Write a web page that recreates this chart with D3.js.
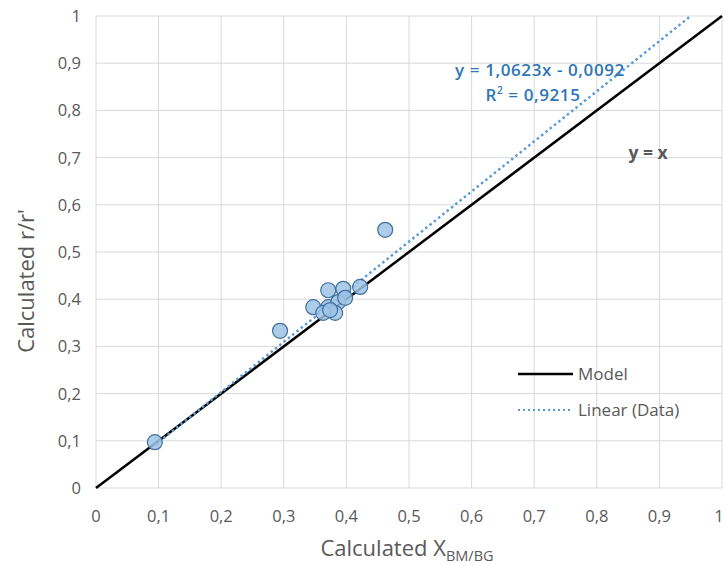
<!DOCTYPE html>
<html>
<head>
<meta charset="utf-8">
<script src="https://cdn.jsdelivr.net/npm/d3@7"></script>
<style>
  body { margin: 0; background: #fff; }
  text { font-family: "Open Sans", sans-serif; }
</style>
</head>
<body>
<div id="chart"></div>
<script>
// measured values (Calculated X_BM/BG vs calculated r/r')
const xVals = [0.094, 0.294, 0.462, 0.422, 0.395, 0.371, 0.347, 0.371, 0.387, 0.398, 0.382, 0.363, 0.374];
const yVals = [0.097, 0.333, 0.547, 0.426, 0.422, 0.419, 0.383, 0.383, 0.394, 0.403, 0.371, 0.371, 0.377];
const ticks = [0, 0.1, 0.2, 0.3, 0.4, 0.5, 0.6, 0.7, 0.8, 0.9, 1];
const slope = 1.0623, intercept = -0.0092;

const width = 724, height = 565;
const margin = {top: 16, right: 2, bottom: 77, left: 96};

const svg = d3.select("#chart").append("svg")
    .attr("width", width)
    .attr("height", height);

const x = d3.scaleLinear().domain([0, 1]).range([margin.left, width - margin.right]);
const y = d3.scaleLinear().domain([0, 1]).range([height - margin.bottom, margin.top]);

const fmt = d => d3.format("")(d).replace(".", ",");

// gridlines
svg.append("g").selectAll("line").data(ticks).join("line")
    .attr("x1", d => x(d)).attr("x2", d => x(d))
    .attr("y1", y(0)).attr("y2", y(1))
    .attr("stroke", "#d9d9d9").attr("stroke-width", 1);
svg.append("g").selectAll("line").data(ticks).join("line")
    .attr("y1", d => y(d)).attr("y2", d => y(d))
    .attr("x1", x(0)).attr("x2", x(1))
    .attr("stroke", "#d9d9d9").attr("stroke-width", 1);

// tick labels
svg.append("g").selectAll("text").data(ticks).join("text")
    .attr("x", d => d === 1 ? x(d) - 3 : x(d)).attr("y", y(0) + 34)
    .attr("text-anchor", "middle")
    .attr("font-size", 16.5).attr("fill", "#595959")
    .text(fmt);
svg.append("g").selectAll("text").data(ticks).join("text")
    .attr("x", x(0) - 15).attr("y", d => y(d) + 6)
    .attr("text-anchor", "end")
    .attr("font-size", 16.5).attr("fill", "#595959")
    .text(fmt);

// axis titles
const xt = svg.append("text")
    .attr("x", 407).attr("y", 556)
    .attr("text-anchor", "middle")
    .attr("font-size", 22).attr("fill", "#595959");
xt.append("tspan").text("Calculated X");
xt.append("tspan").attr("font-size", 14.5).attr("dy", 5).text("BM/BG");

svg.append("text")
    .attr("transform", `translate(34, 281) rotate(-90)`)
    .attr("text-anchor", "middle")
    .attr("font-size", 22).attr("fill", "#595959")
    .text("Calculated r/r'");

// model line y = x
svg.append("line")
    .attr("x1", x(0)).attr("y1", y(0))
    .attr("x2", x(1)).attr("y2", y(1))
    .attr("stroke", "#000").attr("stroke-width", 2.5);

// linear trendline
const xStart = d3.min(xVals);
const xEnd = (1 - intercept) / slope;
svg.append("line")
    .attr("x1", x(xStart)).attr("y1", y(slope * xStart + intercept))
    .attr("x2", x(xEnd)).attr("y2", y(slope * xEnd + intercept))
    .attr("stroke", "#5b9bd5").attr("stroke-width", 2.5)
    .attr("stroke-dasharray", "2.5,3");

// data points
svg.append("g").selectAll("circle").data(xVals).join("circle")
    .attr("cx", d => x(d))
    .attr("cy", (d, i) => y(yVals[i]))
    .attr("r", 7.5)
    .attr("fill", "#9dc3e6").attr("fill-opacity", 0.85)
    .attr("stroke", "#41719c").attr("stroke-width", 1.2);

// equation
svg.append("text")
    .attr("x", 540).attr("y", 76)
    .attr("text-anchor", "middle")
    .attr("font-size", 17).attr("font-weight", 600).attr("fill", "#2e75b6")
    .attr("letter-spacing", 0.6)
    .text("y = 1,0623x - 0,0092");
const r2 = svg.append("text")
    .attr("x", 533).attr("y", 101)
    .attr("text-anchor", "middle")
    .attr("font-size", 17).attr("font-weight", 600).attr("fill", "#2e75b6")
    .attr("letter-spacing", 0.6);
r2.append("tspan").text("R");
r2.append("tspan").attr("font-size", 10).attr("dy", -7).text("2");
r2.append("tspan").attr("dy", 7).text(" = 0,9215");

svg.append("text")
    .attr("x", 648).attr("y", 159)
    .attr("text-anchor", "middle")
    .attr("font-size", 17.5).attr("font-weight", "bold").attr("fill", "#595959")
    .text("y = x");

// legend
const legend = [
    {label: "Model", color: "#000", dash: null, w: 2.5, y: 374},
    {label: "Linear (Data)", color: "#5b9bd5", dash: "2,3", w: 2, y: 410}
];
const lg = svg.append("g").selectAll("g").data(legend).join("g");
lg.append("line")
    .attr("x1", 518).attr("x2", 573)
    .attr("y1", d => d.y).attr("y2", d => d.y)
    .attr("stroke", d => d.color).attr("stroke-width", d => d.w)
    .attr("stroke-dasharray", d => d.dash);
lg.append("text")
    .attr("x", 578).attr("y", d => d.y + 6)
    .attr("font-size", 17).attr("fill", "#595959")
    .text(d => d.label);
</script>
</body>
</html>
